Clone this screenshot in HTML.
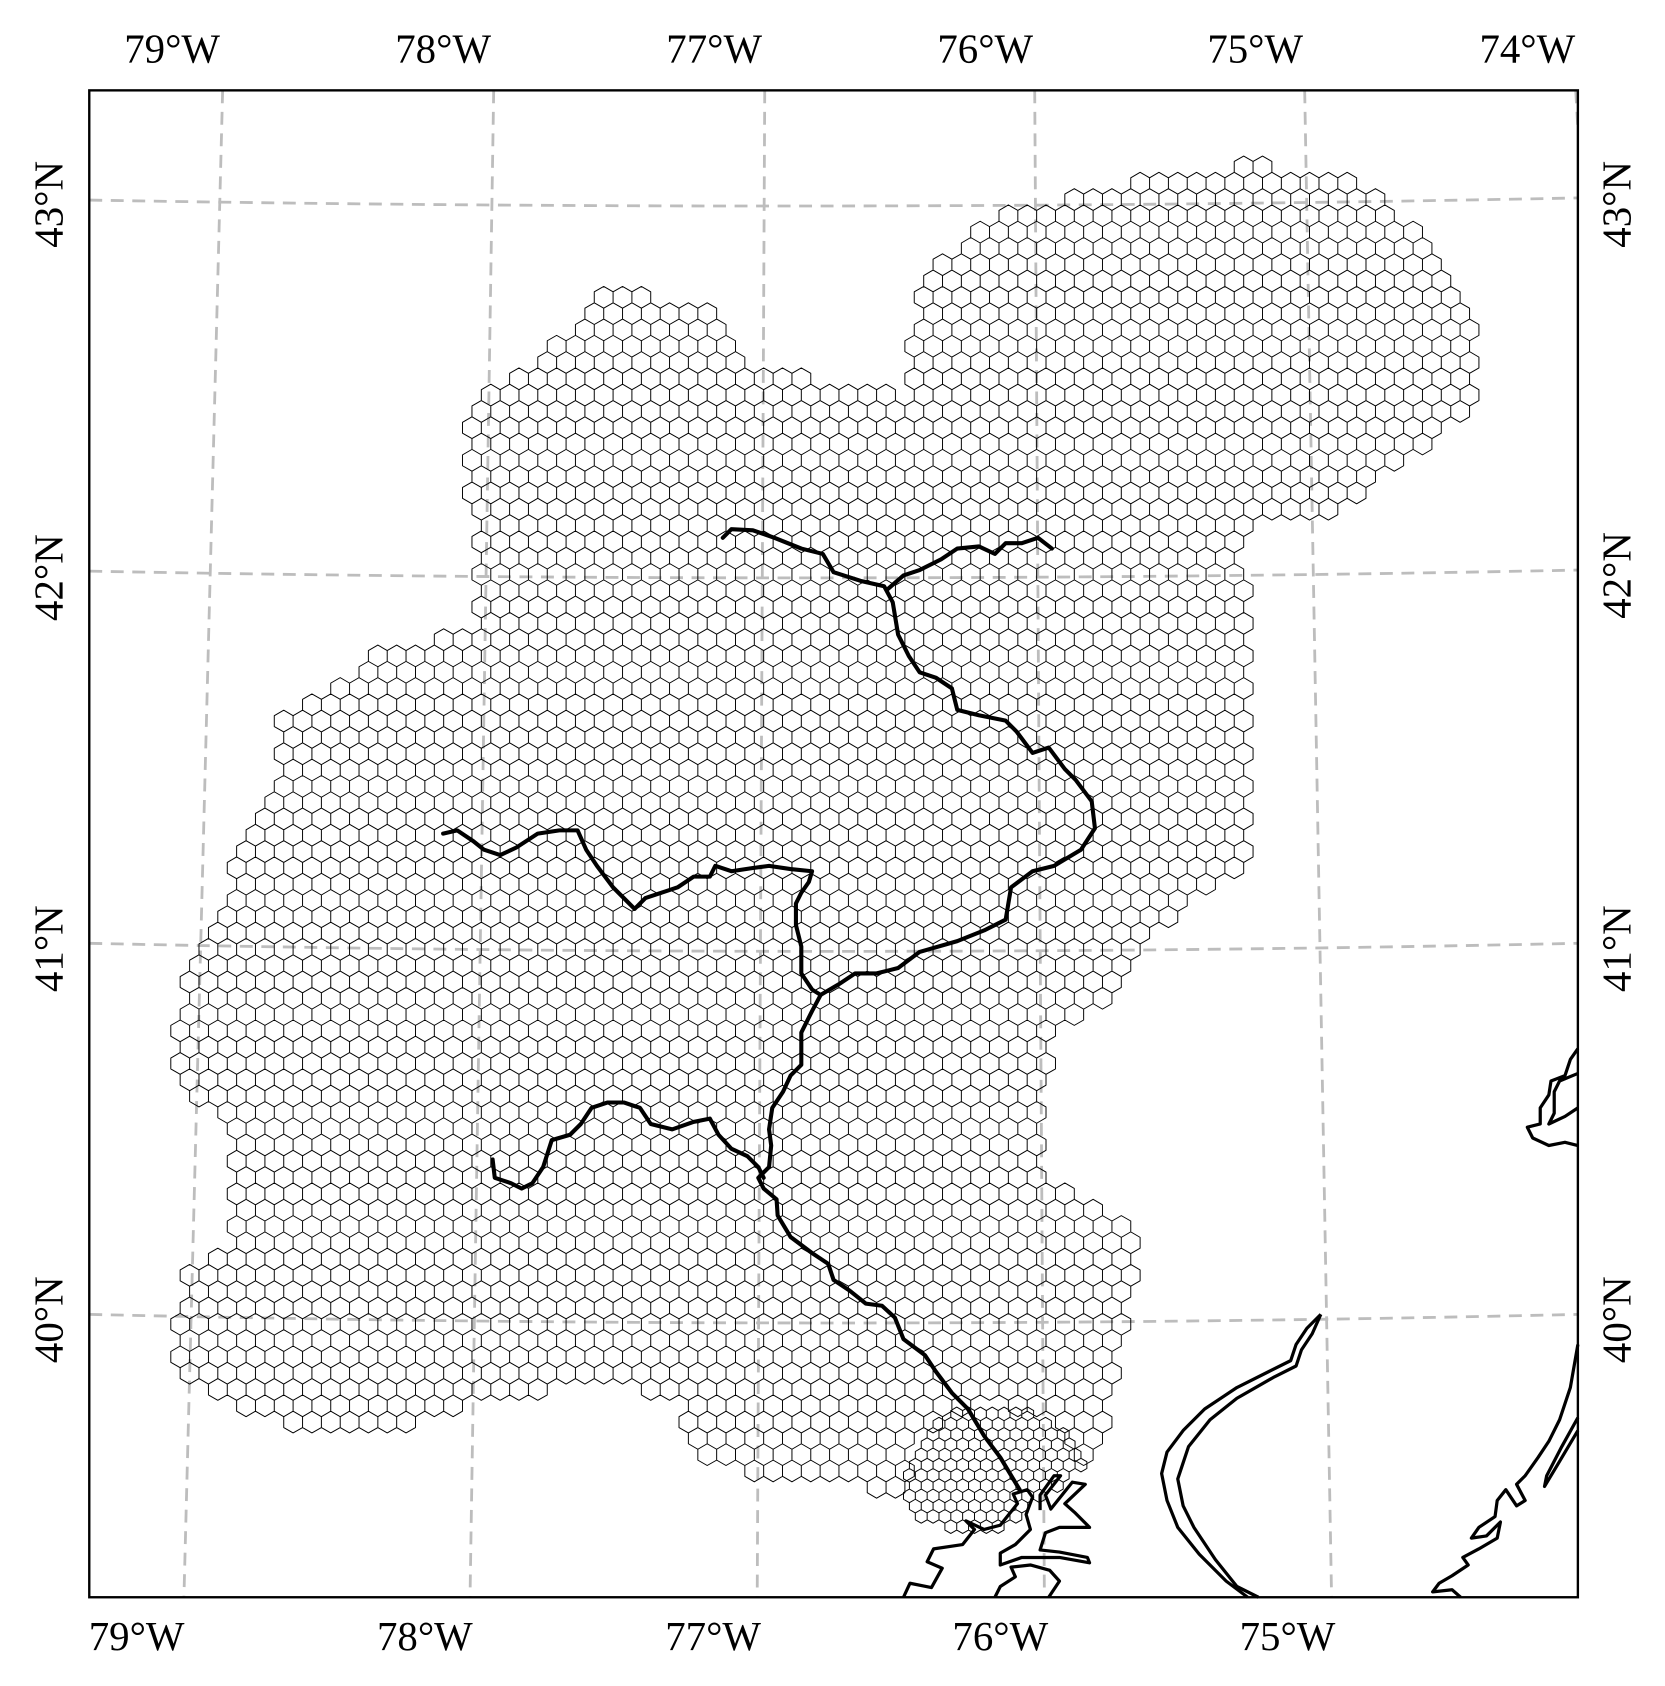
<!DOCTYPE html>
<html><head><meta charset="utf-8"><style>
html,body{margin:0;padding:0;background:#fff;}
svg{display:block;}
text{font-family:"Liberation Serif","Times New Roman",serif;fill:#000;}
</style></head><body>
<svg id="map" width="1665" height="1686" viewBox="0 0 1548 1567.5" xmlns="http://www.w3.org/2000/svg">
<rect x="0" y="0" width="1548" height="1567.5" fill="#fff"/>
<g id="grid" stroke="#bdbdbd" stroke-width="2.6" stroke-dasharray="12,8" fill="none">
<line x1="207" y1="84" x2="171" y2="1485"/>
<line x1="459" y1="84" x2="437" y2="1485"/>
<line x1="711" y1="84" x2="704" y2="1485"/>
<line x1="962" y1="84" x2="971" y2="1485"/>
<line x1="1213" y1="84" x2="1238" y2="1485"/>
<line x1="1465" y1="84" x2="1467" y2="120"/>
<path d="M83,186 Q775,198 1467,184"/>
<path d="M83,531 Q775,544 1467,530"/>
<path d="M83,877 Q775,892 1467,877"/>
<path d="M83,1222 Q775,1238 1467,1222"/>
</g>
<path id="mesh" fill="none" stroke="#000" stroke-width="0.9" stroke-linejoin="round"/>
<g id="rivers" fill="none" stroke="#000" stroke-width="3.8" stroke-linejoin="round" stroke-linecap="round"></g>
<g id="coast" fill="none" stroke="#000" stroke-width="3" stroke-linejoin="round"></g>
<rect x="83" y="84" width="1384" height="1401" fill="none" stroke="#000" stroke-width="2.2"/>
<g font-size="38" text-anchor="middle">
<text x="160" y="58">79°W</text>
<text x="412" y="58">78°W</text>
<text x="664" y="58">77°W</text>
<text x="916" y="58">76°W</text>
<text x="1167" y="58">75°W</text>
<text x="1420" y="58">74°W</text>
</g>
<g font-size="38" text-anchor="middle">
<text x="127" y="1534">79°W</text>
<text x="395" y="1534">78°W</text>
<text x="663" y="1534">77°W</text>
<text x="930" y="1534">76°W</text>
<text x="1197" y="1534">75°W</text>
</g>
<g font-size="38" text-anchor="middle">
<text transform="translate(58,190) rotate(-90)">43°N</text>
<text transform="translate(58,537) rotate(-90)">42°N</text>
<text transform="translate(58,882) rotate(-90)">41°N</text>
<text transform="translate(58,1227) rotate(-90)">40°N</text>
</g>
<g font-size="38" text-anchor="middle">
<text transform="translate(1516,190) rotate(-90)">43°N</text>
<text transform="translate(1516,535) rotate(-90)">42°N</text>
<text transform="translate(1516,882) rotate(-90)">41°N</text>
<text transform="translate(1516,1227) rotate(-90)">40°N</text>
</g>
</svg>
<script>
const basinX=[1170,1240,1290,1340,1370,1372,1300,1220,1180,1150,1165,1160,1165,1150,1080,1040,990,970,970,1000,1050,1055,1035,1030,1000,960,930,880,830,790,720,640,630,560,470,410,360,280,200,165,170,215,215,170,160,185,215,225,255,260,300,350,400,440,445,430,440,520,550,580,610,660,700,750,800,850,850,860,930,1010,1090];
const basinY=[153,165,185,240,300,380,430,490,480,520,580,690,770,810,860,920,950,1000,1090,1110,1140,1200,1260,1330,1370,1400,1422,1422,1400,1370,1380,1350,1300,1280,1300,1310,1330,1330,1295,1275,1180,1160,1040,1020,970,880,840,770,720,670,650,600,595,580,480,440,370,320,280,268,280,290,340,350,360,370,300,250,200,180,160];
const rivers=[
 {name:'north-branch',x:[672,680,700,720,745,765,775,800,822,830,835,845,855,870,885,890,910,935,945,960,975,990,1000,1015,1018,1005,980,960,940,935,915,890,855,835,815,795,780,763],
  y:[500,492,493,500,510,515,532,540,545,560,590,610,625,630,640,660,665,670,680,700,695,715,725,745,770,790,805,810,825,855,865,875,885,900,905,905,915,925]},
 {name:'chenango-branch',x:[825,840,855,875,890,910,925,935,950,965,978],y:[548,535,530,520,510,508,515,505,505,500,510]},
 {name:'west-branch',x:[412,425,440,450,465,480,500,520,537,545,555,570,580,590,600,615,630,645,660,665,680,700,715,735,755,752,745,740,740,745,745,755,763],
  y:[775,772,782,790,795,788,775,772,772,790,805,825,835,845,835,830,825,815,815,805,810,807,805,808,810,820,830,840,860,880,905,920,925]},
 {name:'main-stem',x:[763,755,745,745,735,728,718,715,717,715,705,710,722,723,735,755,770,775,790,805,820,832,840,860,870,885,900,915,930,942,948],
  y:[925,940,960,990,1000,1015,1030,1050,1065,1085,1095,1105,1115,1130,1150,1165,1175,1190,1200,1212,1214,1225,1245,1260,1275,1295,1310,1335,1355,1375,1385]},
 {name:'juniata',x:[458,460,475,485,495,505,513,530,540,550,565,580,595,605,625,645,660,668,680,695,705,710],
  y:[1078,1095,1100,1105,1100,1085,1060,1055,1045,1030,1025,1025,1030,1045,1050,1043,1040,1055,1068,1075,1085,1095]}
];
const coasts=[
 {name:'chesapeake-west',d:'M840,1485 L846,1472 L866,1476 L876,1458 L862,1452 L868,1440 L895,1436 L906,1422 L898,1414 L915,1422 L930,1418 L946,1398 L942,1389 L955,1385 L960,1392 L954,1408 L958,1422 L944,1436 L930,1444 L930,1455 L950,1448 L985,1448 L1013,1453 L1011,1448 L985,1443 L967,1441 L972,1425 L985,1420 L1013,1420 L999,1406 L990,1398 L1009,1380 L997,1378 L977,1403 L972,1390 L986,1372 L980,1372 L967,1390 L967,1404'},
 {name:'chesapeake-east',d:'M925,1485 L930,1475 L944,1466 L940,1457 L958,1455 L976,1460 L985,1470 L975,1485'},
 {name:'delaware-bay-west',d:'M1228,1222 L1215,1235 L1205,1250 L1200,1265 L1180,1275 L1150,1290 L1120,1310 L1100,1330 L1085,1350 L1080,1370 L1085,1395 L1095,1420 L1115,1445 L1140,1470 L1160,1485'},
 {name:'delaware-bay-east',d:'M1228,1222 L1220,1240 L1210,1255 L1205,1270 L1185,1280 L1150,1300 L1125,1320 L1105,1345 L1095,1375 L1100,1400 L1110,1420 L1130,1450 L1150,1475 L1170,1485'},
 {name:'nj-coast',d:'M1467,1250 L1460,1290 L1450,1320 L1440,1340 L1430,1355 L1418,1372 L1410,1380 L1418,1395 L1410,1400 L1400,1385 L1392,1395 L1390,1410 L1375,1420 L1368,1430 L1382,1428 L1395,1415 L1392,1430 L1375,1440 L1360,1448 L1365,1455 L1350,1465 L1338,1472 L1332,1480 L1350,1478 L1358,1485'},
 {name:'nj-barrier',d:'M1467,1318 L1452,1345 L1438,1372 L1436,1382 L1448,1362 L1467,1330'},
 {name:'ny-harbor',d:'M1467,975 L1460,985 L1455,1000 L1442,1005 L1440,1018 L1432,1030 L1432,1045 L1420,1048 L1425,1058 L1440,1065 L1455,1062 L1467,1065 M1467,998 L1450,1005 L1445,1015 L1445,1035 L1440,1045 L1455,1038 L1467,1030'}
];
function inside(px,py){let c=false;const n=basinX.length;for(let i=0,j=n-1;i<n;j=i++){const xi=basinX[i],yi=basinY[i],xj=basinX[j],yj=basinY[j];if(((yi>py)!=(yj>py))&&(px<(xj-xi)*(py-yi)/(yj-yi)+xi))c=!c;}return c;}
function hex(cx,cy,rr){let s='';for(let k=0;k<6;k++){const a=Math.PI/180*(60*k-90);s+=(k?'L':'M')+(cx+rr*Math.cos(a)).toFixed(1)+','+(cy+rr*Math.sin(a)).toFixed(1);}return s+'Z';}
const OX=925,OY=1390,OR=85;
function inOutlet(x,y){const dx=x-OX,dy=y-OY;return dx*dx+dy*dy<OR*OR;}
function lattice(sp,x0,x1,y0,y1,test){let s='';const r=sp/Math.sqrt(3),vy=r*1.5;let row=0;
 for(let y=y0;y<y1;y+=vy,row++){const off=(row%2)?sp/2:0;
  for(let x=x0+off;x<x1;x+=sp){if(test(x,y))s+=hex(x,y,r);}}return s;}
let d=lattice(17.5,150,1390,140,1440,(x,y)=>inside(x,y)&&!inOutlet(x,y));
d+=lattice(11,OX-OR,OX+OR,OY-OR,OY+OR,(x,y)=>inside(x,y)&&inOutlet(x,y));
document.getElementById('mesh').setAttribute('d',d);
const NS='http://www.w3.org/2000/svg';
const rg=document.getElementById('rivers');
rivers.forEach(rv=>{const p=document.createElementNS(NS,'polyline');
p.setAttribute('points',rv.x.map((v,i)=>v+','+rv.y[i]).join(' '));


rg.appendChild(p);});
const cg=document.getElementById('coast');
coasts.forEach(c=>{const p=document.createElementNS(NS,'path');p.setAttribute('d',c.d);


cg.appendChild(p);});
</script>
</body></html>
